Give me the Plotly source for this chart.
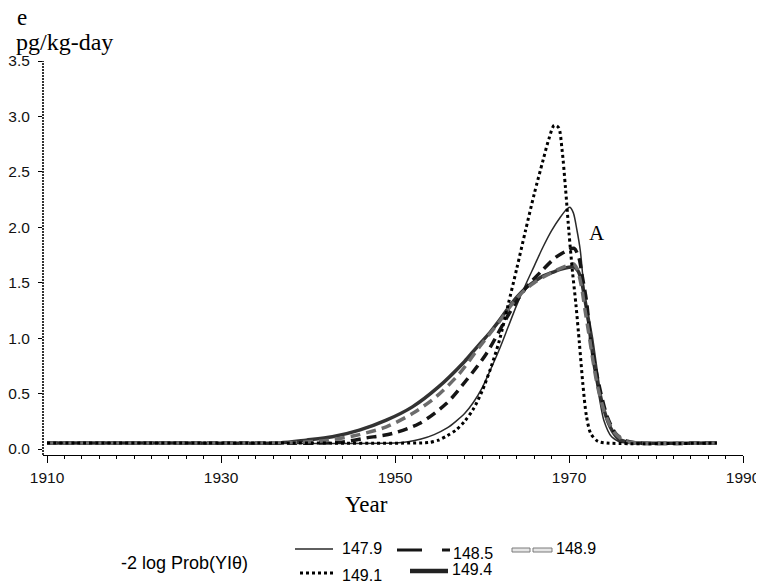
import plotly.graph_objects as go

# ---------------- data ----------------
BASE = 0.054

years_1479 = [1910, 1930, 1950, 1951.5, 1953, 1954.5, 1956, 1957, 1958, 1959, 1960, 1961, 1962, 1963,
              1964, 1965, 1966, 1967, 1968, 1969, 1969.7, 1970.1, 1970.5, 1970.9, 1971.3, 1971.7,
              1972.3, 1972.8, 1973.4, 1974.0, 1974.9, 1976.0, 1977.5, 1987]
vals_1479 = [BASE, BASE, BASE, 0.065, 0.09, 0.13, 0.19, 0.25, 0.32, 0.42, 0.55, 0.72, 0.90, 1.10,
             1.30, 1.48, 1.65, 1.82, 1.97, 2.09, 2.16, 2.18, 2.13, 1.98, 1.79, 1.46,
             1.04, 0.75, 0.50, 0.26, 0.11, 0.06, BASE, BASE]

years_1485 = [1910, 1930, 1943.5, 1946.7, 1949.7, 1952.8, 1955.9, 1958.2, 1960.5, 1963.1, 1965.0,
              1966.9, 1968.5, 1969.8, 1970.6, 1971.15, 1971.5, 1972.0, 1972.5, 1973.1, 1973.7,
              1974.4, 1975.4, 1976.7, 1978.0, 1987]
vals_1485 = [BASE, BASE, 0.06, 0.10, 0.14, 0.23, 0.41, 0.62, 0.86, 1.22, 1.45,
             1.61, 1.73, 1.79, 1.81, 1.72, 1.57, 1.34, 0.98, 0.71, 0.49,
             0.29, 0.135, 0.07, BASE, BASE]

years_1489 = [1910, 1925, 1939.0, 1942.4, 1945.9, 1949.0, 1952.0, 1954.7, 1957.4, 1959.7, 1962, 1963,
              1964, 1965, 1966, 1967, 1968, 1969, 1970, 1970.5, 1970.9, 1971.4, 1971.85, 1972.3,
              1972.75, 1973.3, 1974.1, 1975.2, 1976.5, 1978.0, 1987]
vals_1489 = [BASE, BASE, 0.06, 0.08, 0.13, 0.20, 0.32, 0.47, 0.68, 0.92, 1.15, 1.26,
             1.36, 1.44, 1.50, 1.55, 1.59, 1.63, 1.66, 1.67, 1.63, 1.48, 1.25, 1.03,
             0.80, 0.56, 0.33, 0.15, 0.07, BASE, BASE]

years_1491 = [1910, 1935, 1953, 1954, 1955, 1956, 1957, 1958, 1959, 1960, 1961, 1962, 1963, 1964,
              1965, 1966, 1967, 1967.7, 1968.3, 1968.8, 1969.2, 1969.6, 1970.0, 1970.4, 1970.8,
              1971.2, 1971.6, 1972.0, 1972.5, 1973.3, 1974.3, 1987]
vals_1491 = [BASE, BASE, 0.055, 0.06, 0.08, 0.12, 0.17, 0.25, 0.36, 0.52, 0.73, 0.98, 1.30, 1.63,
             1.97, 2.30, 2.60, 2.80, 2.92, 2.90, 2.70, 2.35, 1.95, 1.60, 1.30,
             0.95, 0.58, 0.30, 0.14, 0.07, BASE, BASE]

years_1494 = [1910, 1925, 1936.7, 1939.8, 1942.8, 1945.9, 1949.0, 1952.0, 1955.0, 1958, 1959, 1960,
              1961, 1962, 1963, 1964, 1965, 1966, 1967, 1968, 1969, 1970, 1970.6, 1971.0, 1971.4,
              1971.8, 1972.2, 1972.6, 1973.0, 1973.5, 1974.0, 1974.5, 1975.0, 1975.7, 1976.8, 1978.0, 1987]
vals_1494 = [BASE, BASE, 0.055, 0.08, 0.11, 0.17, 0.26, 0.38, 0.56, 0.79, 0.88, 0.97,
             1.06, 1.16, 1.27, 1.37, 1.45, 1.51, 1.56, 1.59, 1.62, 1.64, 1.64, 1.61, 1.53,
             1.36, 1.18, 1.00, 0.78, 0.52, 0.36, 0.24, 0.16, 0.09, 0.06, BASE, BASE]

legend_labels = ["147.9", "148.5", "148.9", "149.1", "149.4"]
x_ticks = [1910, 1930, 1950, 1970, 1990]
y_ticks = [0.0, 0.5, 1.0, 1.5, 2.0, 2.5, 3.0, 3.5]

# ---------------- layout geometry ----------------
# the page body has an 8px margin, so the figure is 8px smaller and starts at (8, 8)
OFF = 8
W, H = 764 - OFF, 585 - OFF
L, R, T, B = 43, 743, 61, 455   # plot area in page pixels


def px(x):
    return (x - L) / (R - L)


def py(y):
    return (B - y) / (B - T)


fig = go.Figure()

series = [
    (years_1494, vals_1494, dict(color="#333333", width=3.5)),
    (years_1479, vals_1479, dict(color="#2a2a2a", width=1.5)),
    (years_1485, vals_1485, dict(color="#151515", width=3.5, dash="10px,6px")),
    (years_1489, vals_1489, dict(color="#6c6c6c", width=3.5, dash="10px,6px")),
    (years_1491, vals_1491, dict(color="#000000", width=3, dash="dot")),
]
for xs, ys, ln in series:
    fig.add_trace(go.Scatter(x=xs, y=ys, mode="lines", line=dict(shape="spline", smoothing=0.8, **ln),
                             showlegend=False, hoverinfo="skip"))

shapes = []
# dotted y-axis line
shapes.append(dict(type="line", xref="paper", yref="paper", x0=0, x1=0, y0=0, y1=1,
                   line=dict(color="#000", width=1.6, dash="2px,1px")))

# legend samples
shapes.append(dict(type="line", xref="paper", yref="paper", x0=px(295), x1=px(333), y0=py(549), y1=py(549),
                   line=dict(color="#2a2a2a", width=1.5)))
shapes.append(dict(type="line", xref="paper", yref="paper", x0=px(397), x1=px(422), y0=py(550), y1=py(550),
                   line=dict(color="#151515", width=3)))
shapes.append(dict(type="line", xref="paper", yref="paper", x0=px(442), x1=px(450), y0=py(550), y1=py(550),
                   line=dict(color="#151515", width=3)))
for a, b in [(512, 530), (533, 552)]:
    shapes.append(dict(type="rect", xref="paper", yref="paper", x0=px(a), x1=px(b), y0=py(552), y1=py(548),
                       line=dict(color="#7a7a7a", width=1), fillcolor="#e6e6e6"))
shapes.append(dict(type="line", xref="paper", yref="paper", x0=px(300), x1=px(335), y0=py(573), y1=py(573),
                   line=dict(color="#000", width=3, dash="dot")))
shapes.append(dict(type="line", xref="paper", yref="paper", x0=px(410), x1=px(448), y0=py(571), y1=py(571),
                   line=dict(color="#222", width=4.5)))

serif = "Liberation Serif, Times New Roman, serif"
sans = "Liberation Sans, Arial, sans-serif"

ann = []


def text(t, x, y, size, family, xanchor="left"):
    ann.append(dict(text=t, xref="paper", yref="paper", x=px(x), y=py(y), xanchor=xanchor, yanchor="middle",
                    showarrow=False, font=dict(family=family, size=size, color="#000")))


text("e", 15, 17, 23, serif)
text("pg/kg-day", 14, 42, 24, serif)
text("Year", 366, 504, 23, serif, "center")
text("A", 597, 233, 21, serif, "center")
text("-2 log Prob(YIθ)", 119, 563, 18, sans)
legend_pos = [(340, 548), (451, 553), (554, 548), (340, 575), (450, 569)]
for lab, (x, y) in zip(legend_labels, legend_pos):
    text(lab, x, y, 16, sans)

fig.update_layout(
    width=W, height=H,
    margin=dict(l=L - OFF, r=W - (R - OFF), t=T - OFF, b=H - (B - OFF), pad=0, autoexpand=False),
    paper_bgcolor="white", plot_bgcolor="white",
    shapes=shapes, annotations=ann,
    xaxis=dict(range=[1909.54, 1990], tickmode="array", tickvals=x_ticks, ticktext=[str(v) for v in x_ticks],
               automargin=False,
               showgrid=False, zeroline=False, showline=True, linecolor="#000", linewidth=1.2,
               ticks="outside", ticklen=7, tickwidth=1.2, tickcolor="#000", ticklabelstandoff=1,
               minor=dict(dtick=2, tick0=1910, ticks="outside", ticklen=3, tickwidth=1, tickcolor="#000"),
               tickfont=dict(family=sans, size=15.5, color="#111")),
    yaxis=dict(range=[-0.054, 3.5], tickmode="array", tickvals=y_ticks, ticktext=[f"{v:.1f}" for v in y_ticks],
               automargin=False,
               showgrid=False, zeroline=False, showline=False,
               ticks="outside", ticklen=4, tickwidth=1, tickcolor="#000", ticklabelstandoff=5,
               tickfont=dict(family=sans, size=15.5, color="#111")),
)

fig.write_html("out.html")
